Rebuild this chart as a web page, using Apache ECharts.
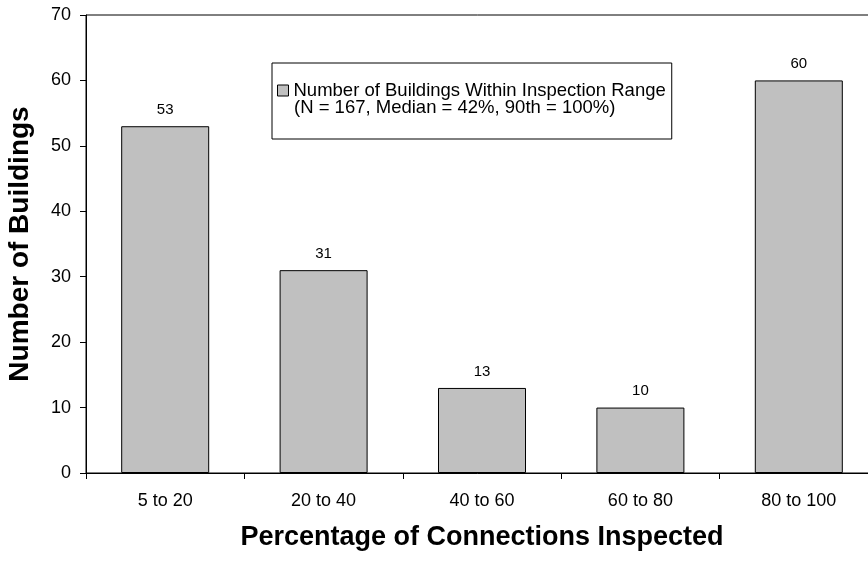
<!DOCTYPE html>
<html>
<head>
<meta charset="utf-8">
<script src="https://cdn.jsdelivr.net/npm/echarts@6/dist/echarts.min.js"></script>
<style>html,body{margin:0;padding:0;background:#fff;overflow:hidden;}#c{width:868px;height:561px;}</style>
</head>
<body>
<div id="c"></div>
<script>
var categories = ['5 to 20', '20 to 40', '40 to 60', '60 to 80', '80 to 100'];
var buildings = [53, 31, 13, 10, 60];
var yTicks = [0, 10, 20, 30, 40, 50, 60, 70];
var seriesName = 'Number of Buildings Within Inspection Range';
var seriesNote = '(N = 167, Median = 42%, 90th = 100%)';

var chart = echarts.init(document.getElementById('c'), null, {renderer: 'canvas'});
var F = '"Liberation Sans", Arial, sans-serif';
chart.setOption({
  animation: false,
  backgroundColor: '#fff',
  grid: {left: 86, width: 792, top: 15, bottom: 88, show: true, borderColor: '#000', borderWidth: 1,
         containLabel: false, outerBoundsMode: 'none'},
  legend: {
    show: true,
    left: 272, top: 63,
    orient: 'vertical',
    data: [seriesName],
    icon: 'rect',
    itemWidth: 11, itemHeight: 11, itemGap: 0,
    padding: [18, 6, 39, 5],
    borderColor: '#000', borderWidth: 1,
    textStyle: {fontFamily: F, fontSize: 18.5, color: '#000', lineHeight: 18},
    itemStyle: {borderColor: '#000', borderWidth: 1}
  },
  graphic: [{
    type: 'text', x: 294, y: 108,
    style: {text: seriesNote, font: '18.5px ' + F, fill: '#000', verticalAlign: 'middle', align: 'left'}
  }],
  xAxis: {
    type: 'category',
    data: categories,
    axisLine: {lineStyle: {color: '#000', width: 1}},
    axisTick: {show: true, alignWithLabel: false, length: 6, inside: false, lineStyle: {color: '#000'}},
    axisLabel: {fontFamily: F, fontSize: 18, color: '#000', margin: 19},
    name: 'Percentage of Connections Inspected',
    nameLocation: 'middle',
    nameGap: 51,
    nameTextStyle: {fontFamily: F, fontSize: 27, fontWeight: 'bold', color: '#000'}
  },
  yAxis: {
    type: 'value',
    min: 0, max: 70, interval: 10,
    axisLine: {show: true, lineStyle: {color: '#000', width: 1}},
    axisTick: {show: true, length: 6, lineStyle: {color: '#000'}},
    splitLine: {show: false},
    axisLabel: {fontFamily: F, fontSize: 18, color: '#000', margin: 15,
      formatter: function (v) { return yTicks.indexOf(v) >= 0 ? String(v) : ''; }},
    name: 'Number of Buildings',
    nameLocation: 'middle',
    nameGap: 52,
    nameTextStyle: {fontFamily: F, fontSize: 28, fontWeight: 'bold', color: '#000'}
  },
  series: [{
    name: seriesName,
    type: 'bar',
    data: buildings,
    barWidth: 88,
    itemStyle: {color: '#c0c0c0', borderColor: '#000', borderWidth: 1},
    label: {show: true, position: 'top', distance: 9, fontFamily: F, fontSize: 15, color: '#000'}
  }]
});
</script>
</body>
</html>
